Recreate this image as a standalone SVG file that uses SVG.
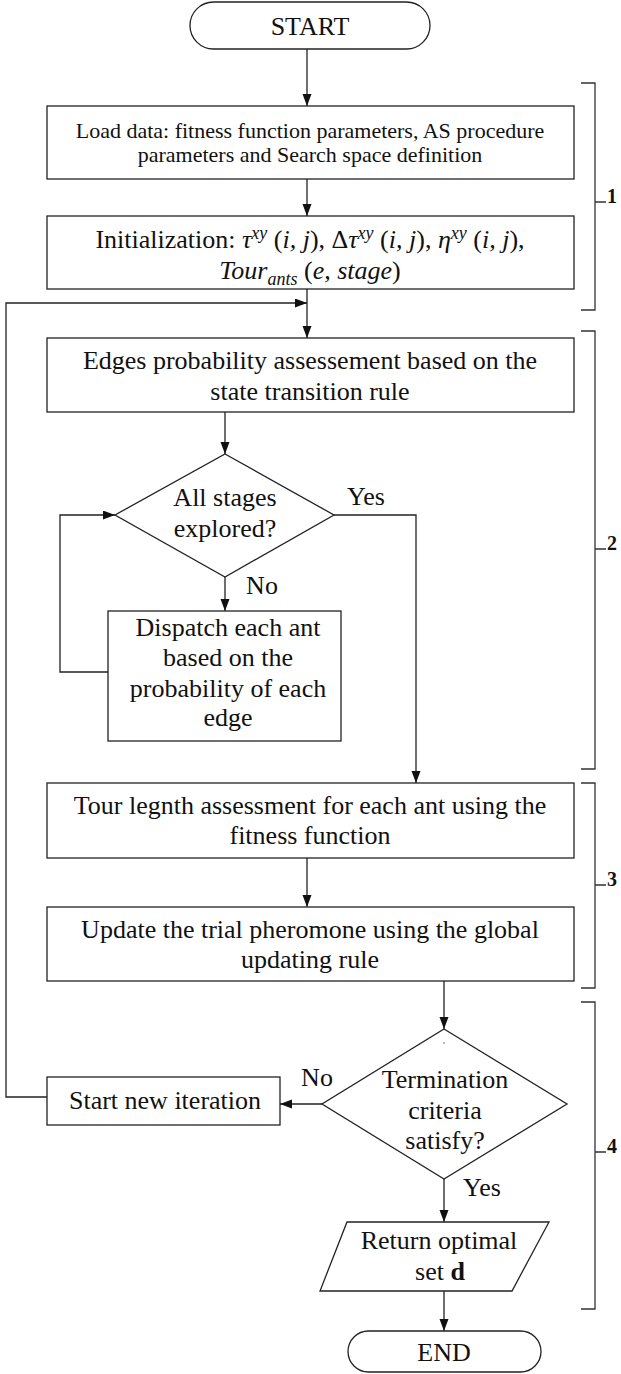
<svg xmlns="http://www.w3.org/2000/svg" width="621" height="1374" viewBox="0 0 621 1374">
<style>
.shape{fill:#fff;stroke:#222;stroke-width:1.3}
.conn{fill:none;stroke:#222;stroke-width:1.3}
.t{font-family:"Liberation Serif","Times New Roman",serif;font-size:26px;fill:#111;text-anchor:middle}
.s{font-size:22px}
.i{font-style:italic}
.sup{font-size:18px;font-style:italic}
.br{fill:none;stroke:#333;stroke-width:1.3}
.bl{font-family:"Liberation Serif","Times New Roman",serif;font-size:20px;font-weight:bold;fill:#111}
</style>
<defs>
<marker id="arr" markerUnits="userSpaceOnUse" markerWidth="13" markerHeight="10" refX="12" refY="4.5" orient="auto">
<path d="M0,0 L12,4.5 L0,9 z" fill="#111"/>
</marker>
</defs>
<rect width="621" height="1374" fill="#fff"/>

<g id="connectors">
<path class="conn" d="M307,49 V106" marker-end="url(#arr)"/>
<path class="conn" d="M307,179 V216" marker-end="url(#arr)"/>
<path class="conn" d="M307,289 V338" marker-end="url(#arr)"/>
<path class="conn" d="M47,1097 H6 V303 H307" marker-end="url(#arr)"/>
<path class="conn" d="M225,412 V454" marker-end="url(#arr)"/>
<path class="conn" d="M334,515 H416 V783" marker-end="url(#arr)"/>
<path class="conn" d="M225,577 V611" marker-end="url(#arr)"/>
<path class="conn" d="M108,672 H60 V515 H115" marker-end="url(#arr)"/>
<path class="conn" d="M307,858 V907" marker-end="url(#arr)"/>
<path class="conn" d="M444,981 V1029" marker-end="url(#arr)"/>
<path class="conn" d="M322,1104 H280" marker-end="url(#arr)"/>
<path class="conn" d="M444,1179 V1222" marker-end="url(#arr)"/>
<path class="conn" d="M444,1291 V1331" marker-end="url(#arr)"/>
<text class="t" x="366" y="505">Yes</text>
<text class="t" x="262" y="594">No</text>
<text class="t" x="317" y="1086">No</text>
<text class="t" x="482" y="1196">Yes</text>
</g>

<g id="start">
<rect class="shape" x="190" y="2" width="240" height="47" rx="23.5" ry="23.5"/>
<text class="t" x="310" y="35">START</text>
</g>

<g id="load">
<rect class="shape" x="47" y="106" width="527" height="73"/>
<text class="t s" x="310" y="138">Load data: fitness function parameters, AS procedure</text>
<text class="t s" x="310" y="162">parameters and Search space definition</text>
</g>

<g id="init">
<rect class="shape" x="47" y="216" width="527" height="73"/>
<text class="t" x="310" y="248">Initialization: <tspan class="i">τ</tspan><tspan class="sup" dy="-9">xy</tspan><tspan dy="9"> (</tspan><tspan class="i">i, j</tspan>), Δ<tspan class="i">τ</tspan><tspan class="sup" dy="-9">xy</tspan><tspan dy="9"> (</tspan><tspan class="i">i, j</tspan>), <tspan class="i">η</tspan><tspan class="sup" dy="-9">xy</tspan><tspan dy="9"> (</tspan><tspan class="i">i, j</tspan>),</text>
<text class="t" x="310" y="279"><tspan class="i">Tour</tspan><tspan class="sup" dy="6">ants</tspan><tspan dy="-6"> (</tspan><tspan class="i">e, stage</tspan>)</text>
</g>

<g id="edges">
<rect class="shape" x="47" y="338" width="527" height="74"/>
<text class="t" x="310" y="369">Edges probability assessement based on the</text>
<text class="t" x="310" y="400">state transition rule</text>
</g>

<g id="stages">
<polygon class="shape" points="225,454 334,515 225,577 115,515"/>
<text class="t" x="225" y="506">All stages</text>
<text class="t" x="225" y="537">explored?</text>
</g>

<g id="dispatch">
<rect class="shape" x="108" y="611" width="233" height="130"/>
<text class="t" x="228" y="636">Dispatch each ant</text>
<text class="t" x="228" y="666">based on the</text>
<text class="t" x="228" y="697">probability of each</text>
<text class="t" x="228" y="726">edge</text>
</g>

<g id="tour">
<rect class="shape" x="47" y="783" width="527" height="75"/>
<text class="t" x="310" y="814">Tour legnth assessment for each ant using the</text>
<text class="t" x="310" y="844">fitness function</text>
</g>

<g id="update">
<rect class="shape" x="47" y="907" width="527" height="74"/>
<text class="t" x="310" y="938">Update the trial pheromone using the global</text>
<text class="t" x="310" y="968">updating rule</text>
</g>

<g id="termination">
<polygon class="shape" points="444,1029 567,1104 444,1179 322,1104"/>
<circle cx="444" cy="1043" r="0.8" fill="#666"/>
<text class="t" x="445" y="1088">Termination</text>
<text class="t" x="445" y="1119">criteria</text>
<text class="t" x="445" y="1149">satisfy?</text>
</g>

<g id="newiter">
<rect class="shape" x="47" y="1077" width="233" height="48"/>
<text class="t" x="165" y="1109">Start new iteration</text>
</g>

<g id="return">
<polygon class="shape" points="347,1222 549,1222 512,1291 320,1291"/>
<text class="t" x="439" y="1249">Return optimal</text>
<text class="t" x="440" y="1280">set <tspan font-weight="bold">d</tspan></text>
</g>

<g id="end">
<rect class="shape" x="348" y="1331" width="193" height="41" rx="20.5" ry="20.5"/>
<text class="t" x="444" y="1361">END</text>
</g>

<g id="brackets">
<path class="br" d="M581,83 H595 V310 H581 M595,202 H606"/>
<text class="bl" x="607" y="203">1</text>
<path class="br" d="M581,331 H595 V769 H581 M595,549 H606"/>
<text class="bl" x="607" y="550">2</text>
<path class="br" d="M581,783 H595 V988 H581 M595,885 H606"/>
<text class="bl" x="607" y="886">3</text>
<path class="br" d="M581,1002 H595 V1309 H581 M595,1152 H606"/>
<text class="bl" x="607" y="1153">4</text>
</g>
</svg>
